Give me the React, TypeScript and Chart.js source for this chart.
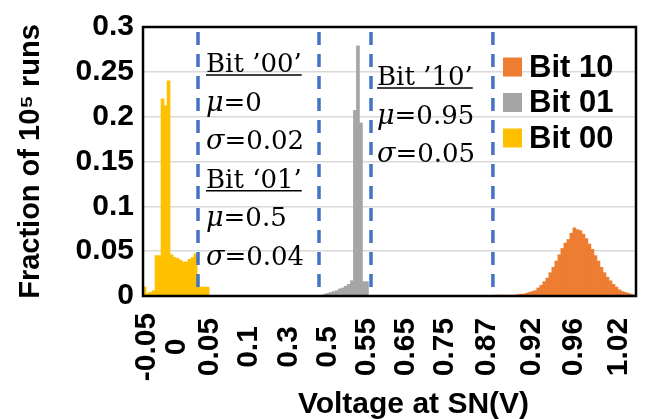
import React, { useEffect, useRef } from 'react';
import { Chart, registerables } from 'chart.js';

Chart.register(...registerables);

// ---------- data ----------
const BIN_COUNT = 164;

const tickLabels = ['-0.05', '0', '0.05', '0.1', '0.3', '0.5', '0.55', '0.65', '0.75', '0.87', '0.92', '0.96', '1.02'];
const tickBins = [0, 10, 21, 34, 47, 60, 73, 86, 99, 113, 128, 142, 157];

const seriesNames = ['Bit 10', 'Bit 01', 'Bit 00'];
const seriesColors = ['#ED7D31', '#A5A5A5', '#FFC000'];

const bit10Start = 117;
const bit10Values = [
  0.001, 0.001, 0.001, 0.001, 0.001, 0.001, 0.001, 0.0015, 0.002, 0.002,
  0.003, 0.004, 0.005, 0.006, 0.009, 0.012, 0.016, 0.02, 0.026, 0.032,
  0.039, 0.046, 0.053, 0.059, 0.063, 0.07, 0.076, 0.074, 0.073, 0.069,
  0.064, 0.058, 0.052, 0.045, 0.039, 0.032, 0.026, 0.021, 0.017, 0.013,
  0.01, 0.007, 0.005, 0.004, 0.003, 0.002, 0.001,
];

const bit01Start = 59;
const bit01Values = [
  0.001, 0.002, 0.003, 0.004, 0.005, 0.006, 0.008, 0.009, 0.011, 0.013,
  0.017, 0.207, 0.279, 0.193, 0.016, 0.016,
];

const bit00Start = 0;
const bit00Values = [
  0.01, 0.003, 0.004, 0.006, 0.045, 0.045, 0.22, 0.212, 0.24, 0.046,
  0.043, 0.042, 0.04, 0.038, 0.038, 0.041, 0.043, 0.047, 0.01, 0.01,
  0.01, 0.01,
];

const seriesStarts = [bit10Start, bit01Start, bit00Start];
const seriesValues = [bit10Values, bit01Values, bit00Values];

const yMin = 0;
const yMax = 0.3;
const yStep = 0.05;

// boundaries (in bin units) of the dashed separators
const dividerBins = [17.8, 58.05, 75.35, 115.9];

const noteBlock1 = ['Bit ’00’', 'μ=0', 'σ=0.02', 'Bit ‘01’', 'μ=0.5', 'σ=0.04'];
const noteBlock2 = ['Bit ’10’', 'μ=0.95', 'σ=0.05'];

const xTitle = 'Voltage at SN(V)';
const yTitle = 'Fraction of 10⁵ runs';

// ---------- helpers ----------
function expand(start: number, values: number[]) {
  const arr: (number | null)[] = new Array(BIN_COUNT).fill(null);
  values.forEach((v, i) => {
    arr[start + i] = v;
  });
  return arr;
}

const categories = Array.from({ length: BIN_COUNT }, (_, i) => {
  const k = tickBins.indexOf(i);
  return k >= 0 ? tickLabels[k] : '';
});

const SANS = '"Liberation Sans", Arial, sans-serif';
const SERIF = '"DejaVu Serif", "Liberation Serif", serif';

const overlayPlugin = {
  id: 'overlay',
  afterDraw(chart: any) {
    const { ctx, chartArea } = chart;
    const xs = chart.scales.x;
    const { left, right, top, bottom } = chartArea;

    // dashed separators
    ctx.save();
    ctx.strokeStyle = '#4472C4';
    ctx.lineWidth = 3.5;
    ctx.setLineDash([13, 9]);
    const divPx = dividerBins.map((b) => xs.getPixelForValue(b));
    divPx.forEach((px) => {
      ctx.beginPath();
      ctx.moveTo(px, top + 5);
      ctx.lineTo(px, bottom);
      ctx.stroke();
    });
    ctx.restore();

    // plot frame
    ctx.save();
    ctx.strokeStyle = '#000';
    ctx.lineWidth = 2.5;
    ctx.strokeRect(left, top, right - left, bottom - top);
    ctx.restore();

    // notes
    const drawBlock = (lines: string[], x: number, y0: number, step: number) => {
      ctx.save();
      ctx.fillStyle = '#000';
      ctx.textBaseline = 'alphabetic';
      ctx.textAlign = 'left';
      lines.forEach((line, i) => {
        const y = y0 + i * step;
        if (line.startsWith('Bit')) {
          ctx.font = `26px ${SERIF}`;
          ctx.fillText(line, x, y);
          const w = ctx.measureText(line).width;
          ctx.lineWidth = 1.5;
          ctx.strokeStyle = '#000';
          ctx.beginPath();
          ctx.moveTo(x, y + 3);
          ctx.lineTo(x + w, y + 3);
          ctx.stroke();
        } else {
          const sym = line.charAt(0);
          const rest = line.slice(1);
          ctx.font = `italic 27px ${SERIF}`;
          ctx.fillText(sym, x, y);
          const w = ctx.measureText(sym).width;
          ctx.font = `26px ${SERIF}`;
          ctx.fillText(rest, x + w, y);
        }
      });
      ctx.restore();
    };
    drawBlock(noteBlock1, divPx[0] + 8, top + 45, 38.6);
    drawBlock(noteBlock2, divPx[2] + 6, top + 58, 38.6);

    // legend
    ctx.save();
    ctx.font = `bold 31px ${SANS}`;
    ctx.textBaseline = 'middle';
    ctx.textAlign = 'left';
    seriesNames.forEach((name, i) => {
      const cy = top + 40 + i * 35.5;
      ctx.fillStyle = seriesColors[i];
      ctx.fillRect(right - 133, cy - 9.5, 19, 19);
      ctx.fillStyle = '#000';
      ctx.fillText(name, right - 107, cy + 1);
    });
    ctx.restore();

    // x tick labels (rotated, centred)
    ctx.save();
    ctx.font = `bold 30px ${SANS}`;
    ctx.fillStyle = '#000';
    ctx.textAlign = 'center';
    ctx.textBaseline = 'alphabetic';
    const capH = 0.716 * 30;
    tickBins.forEach((b, i) => {
      const px = xs.getPixelForValue(b);
      ctx.save();
      ctx.translate(px, bottom + 51);
      ctx.rotate(-Math.PI / 2);
      ctx.fillText(tickLabels[i], 0, capH / 2);
      ctx.restore();
    });
    ctx.restore();

    // x title
    ctx.save();
    ctx.font = `bold 30px ${SANS}`;
    ctx.fillStyle = '#000';
    ctx.textAlign = 'center';
    ctx.textBaseline = 'alphabetic';
    ctx.fillText(xTitle, (left + right) / 2 + 24, chart.height - 6);
    ctx.restore();
  },
};

export default function App() {
  const ref = useRef<HTMLCanvasElement | null>(null);

  useEffect(() => {
    if (!ref.current) return;
    const chart = new Chart(ref.current, {
      type: 'bar',
      data: {
        labels: categories,
        datasets: seriesNames.map((name, i) => ({
          label: name,
          data: expand(seriesStarts[i], seriesValues[i]),
          backgroundColor: seriesColors[i],
          borderWidth: 0,
          barPercentage: 1,
          categoryPercentage: 1,
          grouped: false,
        })),
      },
      options: {
        animation: false,
        responsive: false,
        devicePixelRatio: 1,
        layout: { padding: { top: 20, right: 9, left: 0, bottom: 0 } },
        plugins: {
          legend: { display: false },
          tooltip: { enabled: false },
        },
        scales: {
          x: {
            type: 'category',
            offset: true,
            grid: { display: false },
            border: { display: false },
            ticks: { display: false, autoSkip: false },
            afterFit: (s: any) => {
              s.height = 123;
            },
          },
          y: {
            min: yMin,
            max: yMax,
            ticks: {
              stepSize: yStep,
              color: '#000',
              padding: 9,
              font: { family: SANS, size: 30, weight: 'bold' },
              callback: (v: any) => String(Number(Number(v).toFixed(2))),
            },
            grid: { color: '#D9D9D9', lineWidth: 1.5, drawTicks: false },
            border: { display: false },
            title: {
              display: true,
              text: yTitle,
              color: '#000',
              font: { family: SANS, size: 29, weight: 'bold', lineHeight: 1.2 },
              padding: { top: 14, bottom: 0 },
            },
            afterFit: (s: any) => {
              s.width = 143;
            },
          },
        },
      },
      plugins: [overlayPlugin],
    } as any);
    return () => chart.destroy();
  }, []);

  return (
    <div style={{ position: 'fixed', left: 0, top: 0, width: 645, height: 419, background: '#fff' }}>
      <canvas ref={ref} width={645} height={419} style={{ display: 'block', width: 645, height: 419 }} />
    </div>
  );
}
